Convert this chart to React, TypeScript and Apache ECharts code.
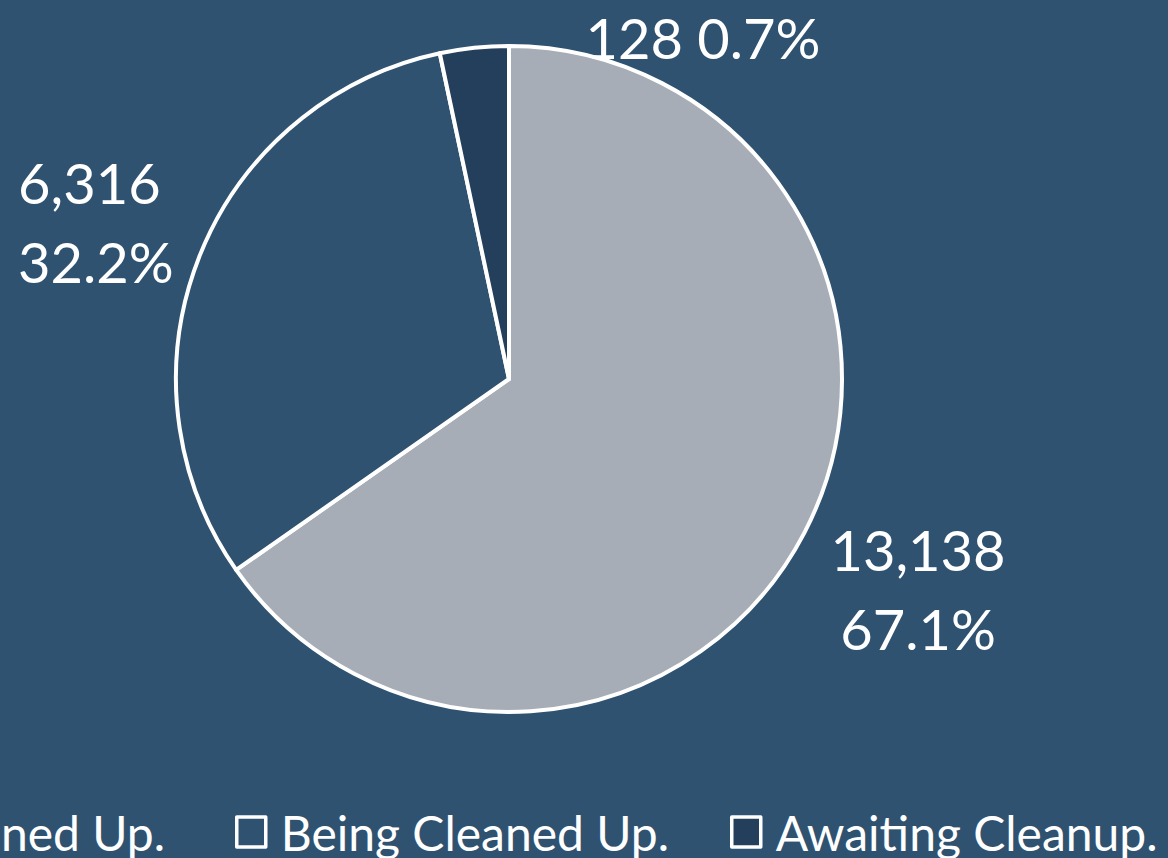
import React, { useEffect, useRef } from "react";
import * as echarts from "echarts";

const categories = ["Cleaned Up.", "Being Cleaned Up.", "Awaiting Cleanup."];
const values = [13138, 6316, 128];
const valueLabels = ["13,138", "6,316", "128"];
const percentLabels = ["67.1%", "32.2%", "0.7%"];
const colors = ["#A6ADB6", "#2F5271", "#243F5B"];

const BG = "#2F5271";
const FONT = "Lato, 'Open Sans', sans-serif";

export default function App() {
  const ref = useRef<HTMLDivElement>(null);
  useEffect(() => {
    document.body.style.margin = "0";
    const chart = echarts.init(ref.current!, null, { renderer: "svg" });
    const labelPos = [
      { x: 918, y: 589, align: "center" },
      { x: 18, y: 222, align: "left" },
      { x: 703, y: 37, align: "center" },
    ];
    chart.setOption({
      animation: false,
      backgroundColor: BG,
      legend: [0, 1, 2].map((i) => {
        const base: any = {
          data: [categories[i]],
          orient: "horizontal",
          top: 808,
          padding: 0,
          icon: "rect",
          itemWidth: 29,
          itemHeight: 30,
          selectedMode: false,
          itemStyle: { borderColor: "#ffffff", borderWidth: 3.5 },
          textStyle: {
            color: "#ffffff",
            fontSize: 48,
            fontFamily: FONT,
            padding: [0, 0, 0, 10],
          },
        };
        if (i === 0) base.right = 1168 - 165;
        else if (i === 1) base.left = 235;
        else base.left = 730;
        return base;
      }),
      series: [
        {
          type: "pie",
          center: [509, 379],
          radius: 333,
          startAngle: 90,
          clockwise: true,
          minAngle: 12,
          avoidLabelOverlap: false,
          itemStyle: { borderColor: "#ffffff", borderWidth: 4 },
          label: {
            show: true,
            position: "outside",
            color: "#ffffff",
            fontSize: 56,
            lineHeight: 79,
            fontFamily: FONT,
          },
          labelLine: { show: false },
          labelLayout: (params: any) => {
            const p = labelPos[params.dataIndex];
            return { x: p.x, y: p.y, align: p.align, verticalAlign: "middle" };
          },
          emphasis: { disabled: true },
          data: categories.map((name, i) => ({
            name,
            value: values[i],
            itemStyle: { color: colors[i] },
            label: {
              align: labelPos[i].align,
              formatter:
                i === 2
                  ? `${valueLabels[i]} ${percentLabels[i]}`
                  : `${valueLabels[i]}\n${percentLabels[i]}`,
            },
          })),
        },
      ],
    });
    return () => chart.dispose();
  }, []);
  return <div ref={ref} style={{ width: 1168, height: 858 }} />;
}
